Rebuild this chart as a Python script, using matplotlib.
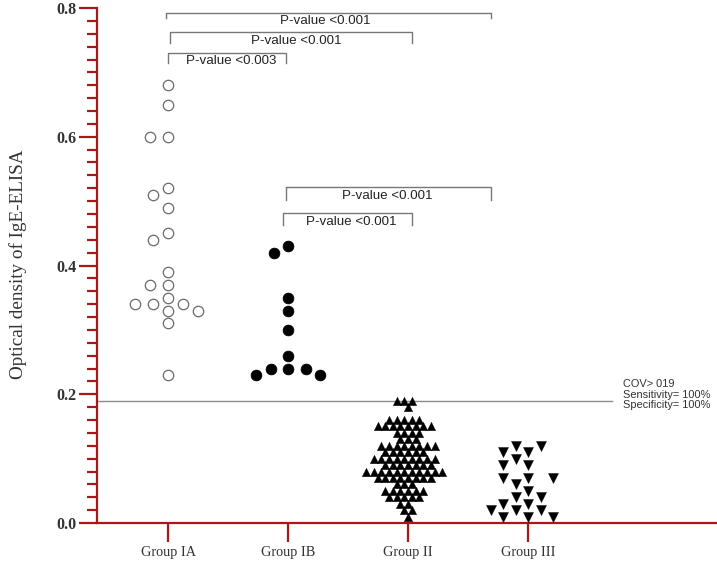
import numpy as np
import matplotlib
matplotlib.use("Agg")
import matplotlib.pyplot as plt

# ---------------- data ----------------
group_labels = ["Group IA", "Group IB", "Group II", "Group III"]

group_ia = [0.68, 0.65, 0.60, 0.60, 0.52, 0.51, 0.49, 0.45, 0.44, 0.39,
            0.37, 0.37, 0.35, 0.34, 0.34, 0.34, 0.33, 0.33, 0.31, 0.23]
group_ib = [0.43, 0.42, 0.35, 0.33, 0.30, 0.26, 0.24, 0.24, 0.24, 0.23, 0.23]
group_ii_levels = [0.19, 0.18, 0.16, 0.15, 0.14, 0.13, 0.12, 0.11, 0.10,
                   0.09, 0.08, 0.07, 0.06, 0.05, 0.04, 0.03, 0.02, 0.01]
group_ii_counts = [3, 1, 5, 8, 4, 3, 8, 6, 9, 7, 11, 8, 3, 6, 5, 2, 2, 1]
group_ii = [v for v, c in zip(group_ii_levels, group_ii_counts) for _ in range(c)]
group_iii = [0.12, 0.12, 0.11, 0.11, 0.10, 0.09, 0.09, 0.07, 0.07, 0.07, 0.06,
             0.05, 0.04, 0.04, 0.03, 0.03, 0.02, 0.02, 0.02, 0.01, 0.01, 0.01]

cutoff = 0.19
cutoff_text = "COV> 019\nSensitivity= 100%\nSpecificity= 100%"

# significance brackets: (x_start, x_end, y_line, y_leg, text, x_text, y_text)
brackets = [
    (0.98, 3.69, 0.793, 0.784, "P-value <0.001", 2.31, 0.780),
    (1.02, 3.03, 0.763, 0.745, "P-value <0.001", 2.07, 0.748),
    (1.00, 1.98, 0.730, 0.714, "P-value <0.003", 1.53, 0.717),
    (1.98, 3.69, 0.522, 0.502, "P-value <0.001", 2.83, 0.508),
    (1.96, 3.03, 0.482, 0.463, "P-value <0.001", 2.53, 0.468),
]

# ---------------- figure ----------------
W, H = 717, 563
fig = plt.figure(figsize=(W / 100, H / 100), dpi=100)
ax_left, ax_bottom, ax_w, ax_h = 97, 40, 620, 515
ax = fig.add_axes([ax_left / W, ax_bottom / H, ax_w / W, ax_h / H])
xlim = (0.408, 5.575)
ylim = (0.0, 0.8)
ax.set_xlim(*xlim)
ax.set_ylim(*ylim)

px_per_x = ax_w / (xlim[1] - xlim[0])
px_per_y = ax_h / (ylim[1] - ylim[0])


def swarm(values, sx, sy, descending, right_first=False):
    """beeswarm offsets (data units) using an elliptical collision region in px"""
    order = sorted(range(len(values)), key=lambda i: values[i], reverse=descending)
    placed = []
    offs = [0.0] * len(values)
    sgn = -1 if right_first else 1
    for i in order:
        y = values[i] * px_per_y
        cands = [0.0]
        for (xp, yp) in placed:
            dy = abs(y - yp)
            if dy < sy:
                w = sx * np.sqrt(1 - (dy / sy) ** 2)
                cands += [xp - w, xp + w]
        valid = []
        for c in cands:
            ok = True
            for (xp, yp) in placed:
                if ((c - xp) / sx) ** 2 + ((y - yp) / sy) ** 2 < 1 - 1e-6:
                    ok = False
                    break
            if ok:
                valid.append(c)
        best = min(valid, key=lambda c: (round(abs(c), 6), sgn * c))
        placed.append((best, y))
        offs[i] = best / px_per_x
    return np.array(offs)


red = "#A81818"
series = [
    (group_ia, dict(marker="o", s=7.5 ** 2, facecolors="white", edgecolors="#6a6a6a", linewidths=0.9), 18.5, 11.0, True, False),
    (group_ib, dict(marker="o", s=7.8 ** 2, facecolors="black", edgecolors="black", linewidths=0.5), 17.5, 11.0, True, False),
    (group_ii, dict(marker="^", s=6.0 ** 2, facecolors="black", edgecolors="black", linewidths=0.3), 7.6, 7.4, False, False),
    (group_iii, dict(marker="v", s=7.2 ** 2, facecolors="black", edgecolors="black", linewidths=0.3), 25.0, 7.4, False, False),
]
for k, (vals, style, sx, sy, desc, rf) in enumerate(series):
    pos = k + 1
    offs = swarm(vals, sx, sy, desc, rf)
    ax.scatter(pos + offs, vals, zorder=3, clip_on=False, **style)

# cutoff line + text
ax.plot([xlim[0], 4.70], [cutoff, cutoff], color="#8a8a8a", lw=1.0, zorder=1)
ax.text(4.79, 0.199, cutoff_text, ha="left", va="center", fontsize=7.9,
        family="Liberation Sans", color="#333333", linespacing=1.05)

# brackets
for x0, x1, yl, yg, txt, xt, yt in brackets:
    ax.plot([x0, x0, x1, x1], [yg, yl, yl, yg], color="#777777", lw=1.0, zorder=2)
    ax.text(xt, yt, txt, ha="center", va="center", fontsize=9.6,
            family="Liberation Sans", color="#222222")

# axes styling
for side in ("top", "right"):
    ax.spines[side].set_visible(False)
for side in ("left", "bottom"):
    ax.spines[side].set_color(red)
    ax.spines[side].set_linewidth(1.6)

ax.set_xticks([1, 2, 3, 4])
ax.set_xticklabels(group_labels, family="Liberation Serif", fontsize=10.3, color="#333333")
ax.tick_params(axis="x", direction="out", length=13.5, width=1.6, color=red, pad=3)

ax.set_yticks(np.arange(0, 0.81, 0.2))
ax.set_yticklabels(["0.0", "0.2", "0.4", "0.6", "0.8"], family="Liberation Serif",
                   fontsize=11.5, fontweight="bold", color="#333333")
ax.set_yticks(np.arange(0, 0.801, 0.02), minor=True)
ax.tick_params(axis="y", which="major", direction="out", length=13, width=1.6, color=red, pad=1.5)
ax.tick_params(axis="y", which="minor", direction="out", length=7, width=1.6, color=red)

fig.text(18 / W, 0.53, "Optical density of IgE-ELISA", rotation=90, ha="center", va="center",
         family="Liberation Serif", fontsize=13.8, color="#333333")

fig.savefig("out.png", dpi=100, facecolor="white")
